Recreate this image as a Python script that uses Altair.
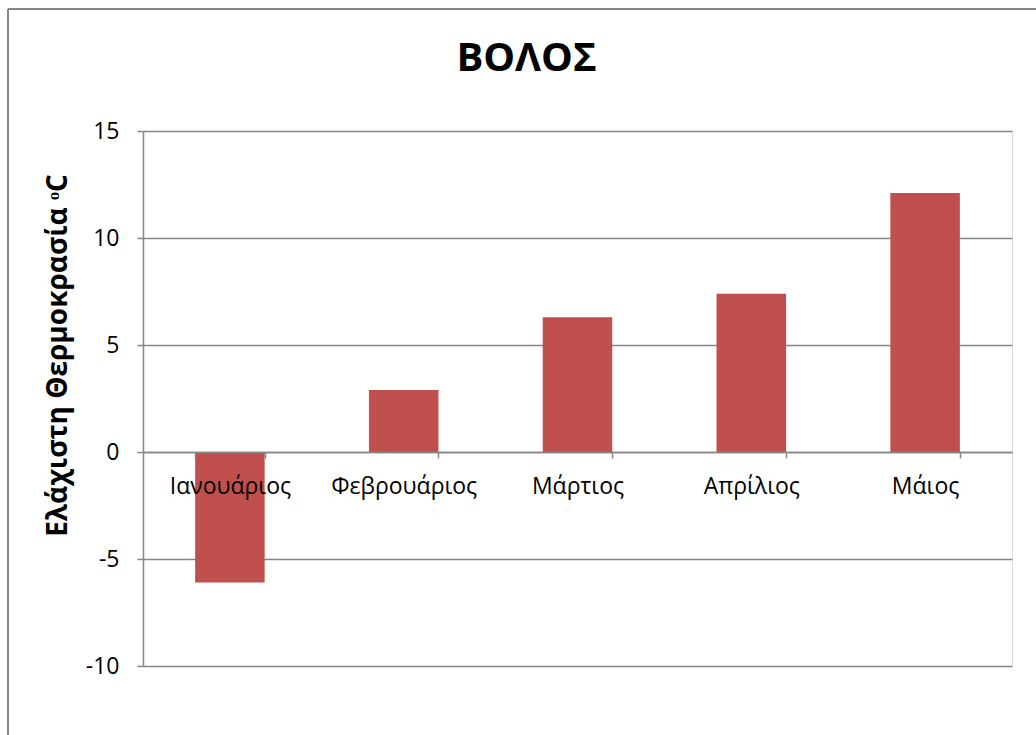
import altair as alt
import pandas as pd

# Monthly minimum temperatures for Volos
months = ["Ιανουάριος", "Φεβρουάριος", "Μάρτιος", "Απρίλιος", "Μάιος"]
min_temps = [-6.1, 2.9, 6.3, 7.4, 12.1]
y_ticks = [-10, -5, 0, 5, 10, 15]

df = pd.DataFrame({"month": months, "temp": min_temps})

FONT = "Open Sans"
GRAY = "#868686"
W, H = 869, 535

bars = alt.Chart(df).mark_bar(color="#C0504D").encode(
    x=alt.X(
        "month:N",
        sort=months,
        title=None,
        scale=alt.Scale(paddingInner=0.6, paddingOuter=0.3),
        axis=alt.Axis(
            orient="bottom",
            offset=-214,
            zindex=1,
            labelAngle=0,
            labelFont=FONT,
            labelFontSize=23,
            labelColor="#000000",
            labelPadding=17,
            domainColor=GRAY,
            domainWidth=1.5,
            tickColor=GRAY,
            tickWidth=1.5,
            tickSize=6,
            tickBand="extent",
            grid=False,
        ),
    ),
    y=alt.Y(
        "temp:Q",
        scale=alt.Scale(domain=[-10, 15], nice=False),
        title="Ελάχιστη Θερμοκρασία ᵒC",
        axis=alt.Axis(
            values=y_ticks,
            labelExpr="datum.value < 0 ? '-' + abs(datum.value) : '' + datum.value",
            labelFont=FONT,
            labelFontSize=23,
            labelColor="#000000",
            labelPadding=18,
            domainColor=GRAY,
            domainWidth=1.5,
            tickColor=GRAY,
            tickWidth=1.5,
            tickSize=6,
            gridColor=GRAY,
            gridWidth=1.5,
            titleFont=FONT,
            titleFontSize=28,
            titleFontWeight="bold",
            titleColor="#000000",
            titleAngle=270,
            titleBaseline="middle",
            titleAlign="center",
            titleX=-85,
            titleY=224,
        ),
    ),
)

# Outer chart-area frame (left and top edges)
frame_left = alt.Chart(df).mark_rule(color=GRAY, strokeWidth=2).encode(
    x=alt.value(-135), y=alt.value(-122), y2=alt.value(H + 69)
)
frame_top = alt.Chart(df).mark_rule(color=GRAY, strokeWidth=2).encode(
    x=alt.value(-135), x2=alt.value(W + 24), y=alt.value(-122)
)

# The title is laid out from the top of the group bounds (above the frame line),
# so a negative offset brings it back down inside the frame.
chart = (
    alt.layer(frame_left, frame_top, bars)
    .properties(
        width=W,
        height=H,
        autosize=alt.AutoSizeParams(type="none"),
        padding={"left": 143, "top": 131, "right": 24, "bottom": 69},
        title=alt.TitleParams(
            "ΒΟΛΟΣ",
            font=FONT,
            fontSize=40,
            fontWeight="bold",
            color="#000000",
            anchor="middle",
            frame="group",
            baseline="alphabetic",
            dx=-51,
            offset=-103,
        ),
    )
    .configure_view(stroke=None)
    .configure(background="#ffffff")
)

chart.save("out.html", embed_options={"renderer": "svg", "actions": False})
